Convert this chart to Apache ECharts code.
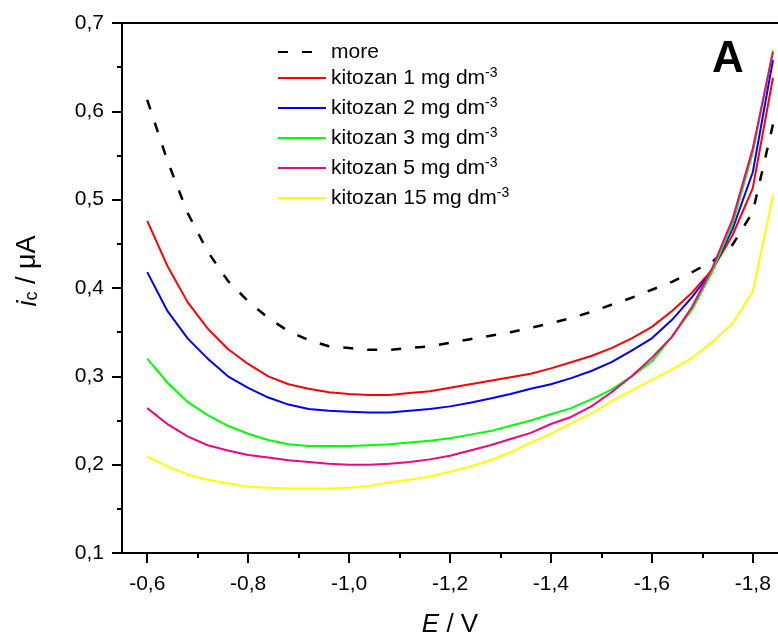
<!DOCTYPE html>
<html><head><meta charset="utf-8">
<script src="https://cdn.jsdelivr.net/npm/echarts@6/dist/echarts.min.js"></script>
<style>html,body{margin:0;padding:0;background:#fff}#c{width:778px;height:635px}</style>
</head><body><div id="c"></div>
<script>
// Potential E / V
const E = [-0.60,-0.64,-0.68,-0.72,-0.76,-0.80,-0.84,-0.88,-0.92,-0.96,-1.00,-1.04,-1.08,-1.12,-1.16,-1.20,-1.24,-1.28,-1.32,-1.36,-1.40,-1.44,-1.48,-1.52,-1.56,-1.60,-1.64,-1.68,-1.72,-1.76,-1.80,-1.84];
// Current i_c / µA
const more   = [0.613,0.544,0.485,0.441,0.408,0.385,0.366,0.351,0.341,0.334,0.332,0.330,0.330,0.332,0.334,0.338,0.342,0.346,0.350,0.355,0.360,0.366,0.373,0.381,0.389,0.398,0.407,0.418,0.430,0.449,0.486,0.585];
const kit1   = [0.476,0.425,0.384,0.354,0.331,0.314,0.300,0.291,0.286,0.282,0.280,0.279,0.279,0.281,0.283,0.287,0.291,0.295,0.299,0.303,0.309,0.316,0.323,0.332,0.343,0.356,0.374,0.395,0.421,0.460,0.513,0.638];
const kit2   = [0.418,0.374,0.343,0.320,0.300,0.287,0.276,0.268,0.263,0.261,0.260,0.259,0.259,0.261,0.263,0.266,0.270,0.275,0.280,0.286,0.291,0.298,0.306,0.316,0.329,0.343,0.364,0.390,0.420,0.467,0.531,0.658];
const kit3   = [0.320,0.293,0.271,0.256,0.244,0.235,0.228,0.223,0.221,0.221,0.221,0.222,0.223,0.225,0.227,0.230,0.234,0.238,0.244,0.250,0.257,0.264,0.274,0.285,0.300,0.317,0.345,0.376,0.419,0.473,0.553,0.669];
const kit5   = [0.264,0.246,0.232,0.222,0.216,0.211,0.208,0.205,0.203,0.201,0.200,0.200,0.201,0.203,0.206,0.210,0.216,0.222,0.229,0.236,0.246,0.254,0.266,0.282,0.300,0.321,0.345,0.379,0.423,0.478,0.558,0.667];
const kit15  = [0.209,0.198,0.189,0.183,0.179,0.175,0.174,0.173,0.173,0.173,0.174,0.176,0.180,0.183,0.187,0.192,0.198,0.205,0.214,0.225,0.235,0.247,0.258,0.272,0.284,0.296,0.308,0.321,0.339,0.360,0.396,0.505];

const names = ['more','kitozan 1 mg dm-3','kitozan 2 mg dm-3','kitozan 3 mg dm-3','kitozan 5 mg dm-3','kitozan 15 mg dm-3'];
const colors = ['#000000','#FF0000','#0000FF','#00FF00','#F0067F','#FFFF00'];
const values = [more, kit1, kit2, kit3, kit5, kit15];

const xMajorTicks = [-0.6,-0.8,-1.0,-1.2,-1.4,-1.6,-1.8];
const xMinorTicks = [-0.7,-0.9,-1.1,-1.3,-1.5,-1.7];

const FF = 'Liberation Sans, Arial, sans-serif';
const fmt = v => v.toFixed(1).replace('.', ',');

const chart = echarts.init(document.getElementById('c'), null, {renderer: 'canvas'});

const series = names.map((n, k) => ({
  name: n,
  type: 'line',
  xAxisIndex: 0,
  yAxisIndex: 0,
  symbol: 'none',
  smooth: false,
  data: E.map((x, i) => [x, values[k][i]]),
  itemStyle: {color: colors[k]},
  lineStyle: k === 0 ? {color: colors[k], width: 2.5, type: [10, 14]} : {color: colors[k], width: 2},
  z: k === 0 ? 1 : 2 + k
}));

const legendText = {
  fontSize: 21, color: '#000', fontFamily: FF, lineHeight: 24,
  rich: {sup: {fontSize: 14, lineHeight: 14, verticalAlign: 'top', color: '#000', fontFamily: FF}}
};
const legendFmt = n => n.replace(/-3$/, '{sup|-3}');
const legendBase = {orient: 'vertical', left: 277, padding: 0, itemWidth: 48, itemHeight: 14, itemGap: 6,
  textStyle: legendText, formatter: legendFmt, selectedMode: false,
  itemStyle: {opacity: 0, borderWidth: 0}};

chart.setOption({
  animation: false,
  backgroundColor: '#fff',
  grid: {left: 122, right: 0, top: 23, bottom: 82, containLabel: false, outerBoundsMode: 'none'},
  legend: [
    Object.assign({data: ['more'], top: 40}, legendBase),
    Object.assign({data: names.slice(1), top: 66}, legendBase)
  ],
  xAxis: [
    {
      type: 'value', position: 'bottom', inverse: true, min: -1.85, max: -0.55,
      splitLine: {show: false},
      axisLine: {show: true, onZero: false, lineStyle: {color: '#000', width: 2}},
      axisTick: {show: true, inside: false, length: 10, lineStyle: {color: '#000', width: 2}, customValues: xMajorTicks},
      axisLabel: {customValues: xMajorTicks, formatter: fmt, fontSize: 21, color: '#000', fontFamily: FF, margin: 21},
      name: '{i|E} / V', nameLocation: 'middle', nameGap: 59,
      nameTextStyle: {fontSize: 26, color: '#000', fontFamily: FF, rich: {i: {fontStyle: 'italic', fontSize: 26, fontFamily: FF, color: '#000'}}}
    },
    {
      type: 'value', position: 'bottom', inverse: true, min: -1.85, max: -0.55,
      splitLine: {show: false},
      axisLine: {show: false, onZero: false},
      axisTick: {show: true, inside: false, length: 5, lineStyle: {color: '#000', width: 2}, customValues: xMinorTicks},
      axisLabel: {show: false}
    },
    {
      type: 'value', position: 'top', inverse: true, min: -1.85, max: -0.55,
      splitLine: {show: false},
      axisLine: {show: true, onZero: false, lineStyle: {color: '#000', width: 2}},
      axisTick: {show: false},
      axisLabel: {show: false}
    }
  ],
  yAxis: {
    type: 'value', min: 0.1, max: 0.7, interval: 0.1,
    splitLine: {show: false},
    axisLine: {show: true, onZero: false, lineStyle: {color: '#000', width: 2}},
    axisTick: {show: true, inside: false, length: 10, lineStyle: {color: '#000', width: 2}},
    minorTick: {show: true, splitNumber: 2, length: 5, lineStyle: {color: '#000', width: 2}},
    minorSplitLine: {show: false},
    axisLabel: {formatter: fmt, fontSize: 21, color: '#000', fontFamily: FF, margin: 18}
  },
  graphic: [
    {type: 'text', x: 728, y: 60, z: 10, style: {text: 'A', font: 'bold 44px ' + FF, fill: '#000', align: 'center', verticalAlign: 'middle'}},
    {type: 'text', x: 28, y: 271, rotation: Math.PI / 2, z: 10,
     style: {text: '{i|i}{sub|c} / μA', font: '27px ' + FF, fill: '#000', align: 'center', verticalAlign: 'middle',
       rich: {i: {fontStyle: 'italic', fontSize: 27, fontFamily: FF, fill: '#000'}, sub: {fontSize: 18, fontFamily: FF, fill: '#000', padding: [9, 0, 0, 0]}}}}
  ],
  series: series
});
</script>
</body></html>
